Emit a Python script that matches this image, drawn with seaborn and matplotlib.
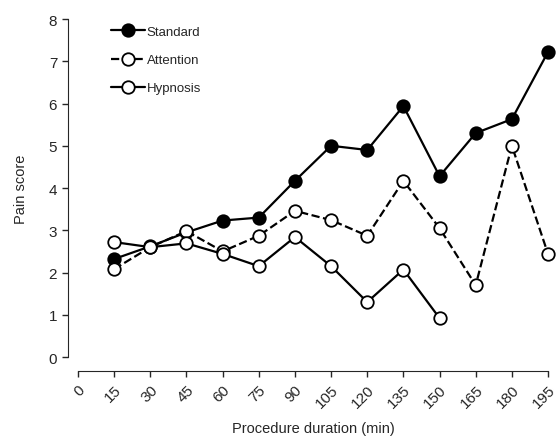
import pandas as pd
import seaborn as sns
import matplotlib.pyplot as plt

# values
minutes = [15, 30, 45, 60, 75, 90, 105, 120, 135, 150, 165, 180, 195]
standard = [2.32, 2.62, 2.95, 3.23, 3.3, 4.17, 5.0, 4.9, 5.94, 4.28, 5.3, 5.63, 7.22]
attention = [2.08, 2.6, 2.98, 2.5, 2.87, 3.46, 3.24, 2.87, 4.17, 3.05, 1.7, 5.0, 2.44]
hypnosis_minutes = [15, 30, 45, 60, 75, 90, 105, 120, 135, 150]
hypnosis = [2.72, 2.6, 2.69, 2.44, 2.15, 2.84, 2.15, 1.3, 2.07, 0.92]
x_ticks = [0, 15, 30, 45, 60, 75, 90, 105, 120, 135, 150, 165, 180, 195]
y_ticks = [0, 1, 2, 3, 4, 5, 6, 7, 8]

df_std = pd.DataFrame({'Minutes': minutes, 'Score': standard})
df_att = pd.DataFrame({'Minutes': minutes, 'Score': attention})
df_hyp = pd.DataFrame({'Minutes': hypnosis_minutes, 'Score': hypnosis})

sns.set_style('ticks')
plt.rcParams['font.family'] = ['Liberation Sans', 'DejaVu Sans']

fig = plt.figure(figsize=(5.58, 4.39), dpi=100)
ax = fig.add_axes([0.1398, 0.1845, 0.8423, 0.7699])

common = dict(color='black', marker='o', markersize=9, markeredgewidth=1.3,
              markeredgecolor='black', linewidth=1.6, clip_on=False, ax=ax)
sns.lineplot(data=df_std, x='Minutes', y='Score', markerfacecolor='black',
             label='Standard', **common)
sns.lineplot(data=df_att, x='Minutes', y='Score', markerfacecolor='white',
             linestyle='--', label='Attention', **common)
sns.lineplot(data=df_hyp, x='Minutes', y='Score', markerfacecolor='white',
             label='Hypnosis', **common)

# offset spines first, setting the spine position resets the ticks
sns.despine(ax=ax, offset={'left': 7, 'bottom': 10})

ax.set_xlim(0, 195)
ax.set_ylim(0, 8)
ax.set_xticks(x_ticks)
ax.set_xticklabels([str(t) for t in x_ticks], rotation=45, ha='right',
                   rotation_mode='anchor', fontsize=11)
ax.set_yticks(y_ticks)
ax.set_yticklabels([str(t) for t in y_ticks], fontsize=11)
ax.tick_params(length=4, width=1, pad=4)
ax.set_xlabel('Procedure duration (min)', fontsize=10.5, labelpad=8)
ax.set_ylabel('Pain score', fontsize=10.5, labelpad=15)

ax.legend(loc='upper left', bbox_to_anchor=(0.045, 1.015), frameon=False,
          fontsize=9.5, handlelength=2.6, handletextpad=0.1,
          labelspacing=1.2)

fig.savefig('out.png', dpi=100)
